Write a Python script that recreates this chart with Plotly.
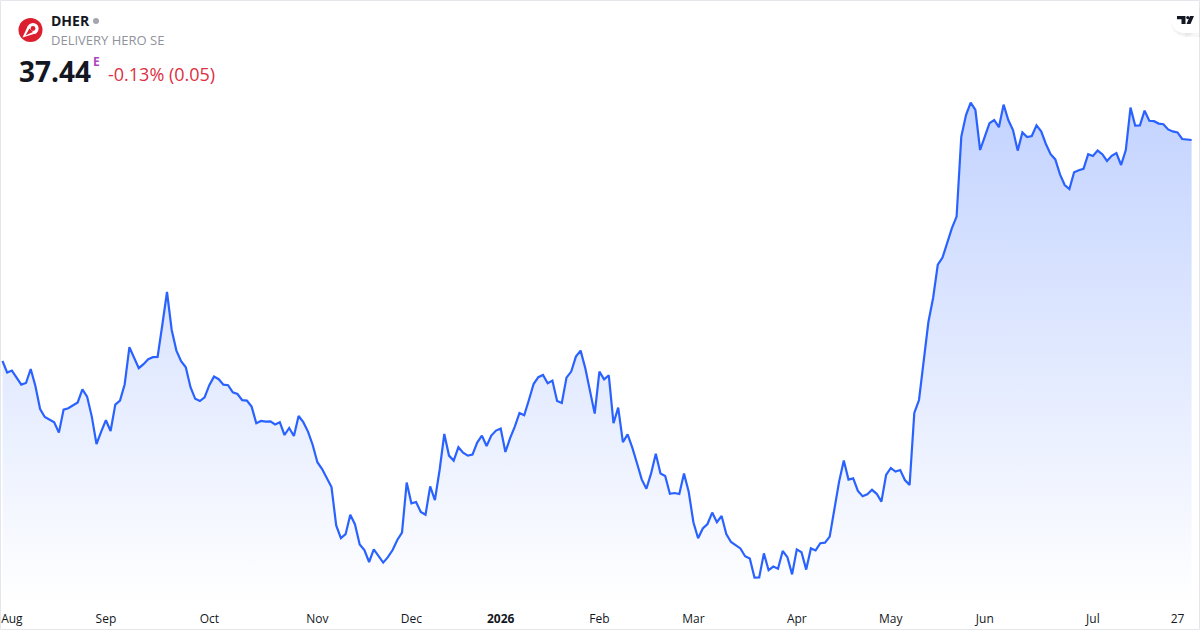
import plotly.graph_objects as go

W = 1200
H = 630
PLOT_H = 605

# daily closes, one per bar
prices = [
    26.39, 25.81, 25.91, 25.59, 25.21, 25.29, 25.99, 25.14, 23.99, 23.59, 23.48, 23.33, 22.81, 23.96, 24.03, 24.19,
    24.32, 24.97, 24.61, 23.61, 22.24, 22.86, 23.43, 22.89, 24.21, 24.41, 25.23, 27.08, 26.56, 26.03, 26.23, 26.48,
    26.58, 26.59, 28.19, 29.84, 27.94, 26.91, 26.38, 26.08, 25.08, 24.50, 24.39, 24.57, 25.18, 25.61, 25.48, 25.21,
    25.18, 24.82, 24.74, 24.43, 24.41, 24.11, 23.28, 23.39, 23.36, 23.37, 23.22, 23.33, 22.69, 23.04, 22.64, 23.64,
    23.33, 22.86, 22.19, 21.33, 20.99, 20.57, 20.09, 18.17, 17.53, 17.73, 18.70, 18.22, 17.22, 16.94, 16.34, 16.97,
    16.63, 16.31, 16.58, 16.94, 17.44, 17.81, 20.31, 19.27, 19.34, 18.84, 18.70, 20.12, 19.43, 20.94, 22.74, 21.66,
    21.41, 22.08, 21.81, 21.66, 21.71, 22.31, 22.66, 22.14, 22.66, 22.91, 23.01, 21.84, 22.53, 23.11, 23.79, 23.68,
    24.44, 25.24, 25.58, 25.69, 25.28, 25.41, 24.39, 24.29, 25.56, 25.86, 26.61, 26.91, 26.03, 24.86, 23.76, 25.86,
    25.47, 25.67, 23.28, 24.06, 22.33, 22.72, 22.06, 21.28, 20.47, 20.00, 20.77, 21.75, 20.76, 20.64, 19.75, 19.79,
    19.74, 20.76, 19.85, 18.33, 17.53, 18.02, 18.24, 18.81, 18.33, 18.64, 17.74, 17.34, 17.17, 17.02, 16.63, 16.51,
    15.56, 15.57, 16.77, 15.93, 16.11, 16.00, 16.89, 16.58, 15.72, 16.97, 16.83, 15.96, 17.02, 16.92, 17.28, 17.31,
    17.61, 19.03, 20.36, 21.41, 20.46, 20.52, 19.89, 19.63, 19.73, 19.95, 19.75, 19.36, 20.69, 21.04, 20.86, 20.94,
    20.44, 20.19, 23.79, 24.44, 26.34, 28.34, 29.54, 31.21, 31.56, 32.36, 33.03, 33.61, 37.61, 38.69, 39.31, 38.94,
    36.94, 37.61, 38.28, 38.44, 38.08, 39.21, 38.44, 37.94, 36.91, 37.82, 37.59, 37.64, 38.17, 37.87, 37.24, 36.73,
    36.47, 35.72, 35.19, 34.99, 35.83, 35.93, 36.00, 36.73, 36.64, 36.91, 36.73, 36.39, 36.65, 36.79, 36.19, 36.94,
    39.06, 38.16, 38.17, 38.91, 38.40, 38.38, 38.26, 38.23, 37.97, 37.87, 37.82, 37.49, 37.47, 37.44,
]
bars = list(range(len(prices)))

tick_bars = [2, 22, 44, 67, 87, 106, 127, 147, 169, 189, 209, 232, 250]
tick_labels = ["Aug", "Sep", "Oct", "Nov", "Dec", "<b>2026</b>", "Feb", "Mar", "Apr", "May", "Jun", "Jul", "27"]

BLUE = "#2962ff"
FONT = "Open Sans"


def px(x):
    return x / W


def py(y):
    return 1 - y / PLOT_H


def path(points, close=True):
    d = "M" + " L".join(f"{px(x):.5f},{py(y):.5f}" for x, y in points)
    return d + (" Z" if close else "")


def label(x, y, text, size, color):
    return dict(
        x=px(x), y=py(y), xref="paper", yref="paper", text=text, showarrow=False,
        xanchor="left", yanchor="middle", borderpad=0,
        font=dict(family=FONT, size=size, color=color),
    )


def disc(x, y, r, color):
    return dict(
        type="circle", xref="paper", yref="paper", x0=px(x - r), x1=px(x + r), y0=py(y + r), y1=py(y - r),
        fillcolor=color, line_width=0,
    )


def poly(points, color):
    return dict(type="path", xref="paper", yref="paper", path=path(points), fillcolor=color, line_width=0)


fig = go.Figure()
fig.add_trace(go.Scatter(
    x=bars, y=prices, mode="lines", fill="tozeroy",
    line=dict(color=BLUE, width=2.2),
    fillgradient=dict(
        type="vertical",
        start=39.4, stop=14.2,
        colorscale=[[0, "rgba(41,98,255,0.28)"], [1, "rgba(41,98,255,0.0)"]],
    ),
    hoverinfo="skip",
))

shapes = [
    # card outline
    dict(type="rect", xref="paper", yref="paper", x0=px(0.5), x1=px(1199.5), y0=py(629.5), y1=py(0.5),
         line=dict(color="#e4e6ea", width=1), fillcolor="rgba(0,0,0,0)"),
    # logo
    disc(30.5, 30, 12, "#dc1f2e"),
    disc(33, 28.5, 5.6, "#ffffff"),
    poly([(22.5, 37.5), (28, 25.5), (37, 33)], "#ffffff"),
    poly([(25.5, 35.5), (29.5, 28.5), (33, 32)], "#dc1f2e"),
    disc(33, 28.5, 2.4, "#dc1f2e"),
    disc(96, 21, 3, "#a3a6af"),
    # tradingview badge
    disc(1185, 23, 14, "rgba(0,0,0,0.025)"),
    disc(1185, 22, 13.5, "rgba(0,0,0,0.035)"),
    poly([(1185, 9), (1200, 9), (1200, 37), (1185, 37)], "rgba(0,0,0,0.03)"),
    disc(1184, 20, 13, "#ffffff"),
    poly([(1184, 7), (1199, 7), (1199, 33), (1184, 33)], "#ffffff"),
    poly([(1177, 16), (1185.5, 16), (1185.5, 24), (1181.5, 24), (1181.5, 19.2), (1177, 19.2)], "#131722"),
    disc(1187.8, 17.6, 1.6, "#131722"),
    poly([(1190, 16), (1194, 16), (1190.5, 24), (1186.5, 24)], "#131722"),
]

fig.update_layout(
    width=W, height=H,
    margin=dict(l=0, r=0, t=0, b=H - PLOT_H),
    paper_bgcolor="#ffffff", plot_bgcolor="#ffffff",
    showlegend=False,
    shapes=shapes,
    annotations=[
        label(50, 21, "<b>DHER</b>", 14, "#131722"),
        label(50, 40.5, "DELIVERY HERO SE", 13, "#8f939c"),
        label(18, 70.5, "<b>37.44</b>", 28, "#131722"),
        label(92, 61.5, "<b>E</b>", 12, "#ab47bc"),
        label(107, 74, "-0.13% (0.05)", 18, "#dc2f45"),
    ],
    xaxis=dict(
        range=[-2.5 / 4.7, 1197.5 / 4.7], tickmode="array", tickvals=tick_bars, ticktext=tick_labels,
        showgrid=False, zeroline=False, showline=False, ticks="outside", ticklen=3, tickcolor="rgba(0,0,0,0)",
        tickfont=dict(family=FONT, size=12, color="#131722"), tickangle=0,
    ),
    yaxis=dict(range=[44.44 - 0.05 * PLOT_H, 44.44], visible=False),
)

fig.write_html("out.html", config=dict(displayModeBar=False),
               post_script="document.body.style.margin='0';document.body.style.overflow='hidden';")
